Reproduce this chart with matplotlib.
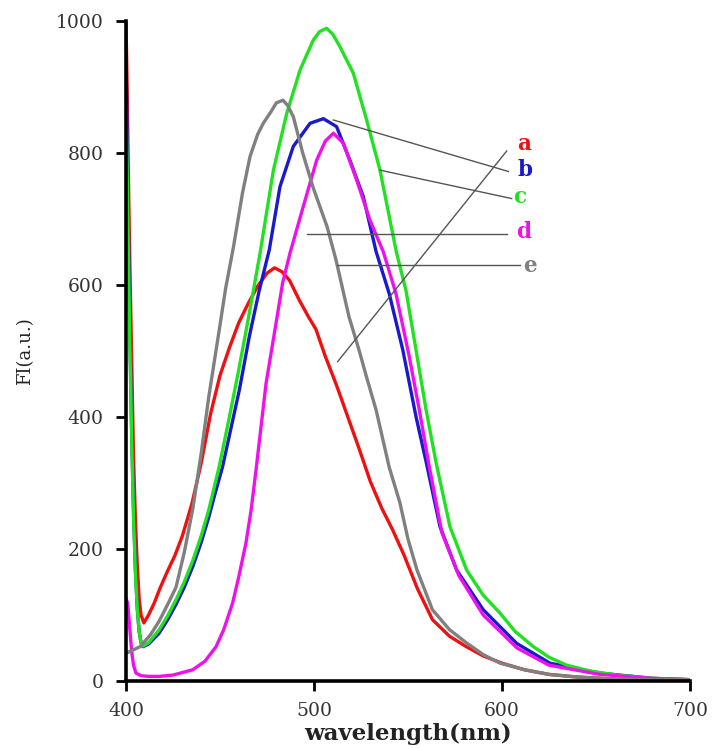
import matplotlib
matplotlib.use("Agg")
import matplotlib.pyplot as plt

# Fluorescence emission spectra, wavelength (nm) vs intensity (a.u.)
wl_a = [400, 400.6, 401.3, 402, 403, 404, 405, 406, 407, 408, 409.5, 412, 415, 418,
        422, 426, 430, 435, 440, 445, 450, 455, 460, 465, 470, 475, 479, 483, 487,
        492, 497, 501, 506, 512, 518, 524, 530, 536, 542, 548, 555, 563, 572, 581,
        590, 600, 612, 625, 640, 660, 680, 700]
fi_a = [1000, 900, 760, 640, 490, 340, 245, 175, 125, 100, 88, 100, 118, 140,
        166, 190, 220, 268, 330, 405, 463, 505, 543, 572, 598, 618, 626, 620, 607,
        578, 552, 533, 492, 448, 400, 352, 302, 262, 228, 190, 140, 93, 68, 52,
        38, 27, 17, 10, 6, 3, 2, 2]

wl_b = [400, 400.6, 401.3, 402, 403, 404, 405, 406, 407, 408, 409, 412, 417.5, 422,
        426.6, 431, 435.6, 440, 444, 447, 451.4, 456, 460.3, 465.6, 470.9, 476.2,
        481.9, 489, 497.9, 505, 512, 519.1, 526.2, 533, 540, 547.2, 554.3, 559.8,
        567, 575.9, 590, 607.8, 625.5, 652, 680, 700]
fi_b = [950, 820, 680, 540, 380, 260, 170, 110, 75, 58, 52, 56, 72, 92,
        116, 142, 174, 210, 248, 280, 325, 385, 441, 522, 592, 653,
        749, 810, 845, 852, 840, 789, 734, 651, 587, 502, 400, 330,
        234, 168, 108, 57, 27, 12, 4, 2]

wl_c = [400, 400.6, 401.3, 402, 403, 404, 405, 406, 407, 408, 409, 412, 417.5, 422,
        426.6, 431, 435.6, 440, 444, 449.5, 455, 460, 465, 471.3, 478.4, 485.5,
        492.6, 499.6, 503, 506.7, 510, 513.8, 520.9, 528, 535.1, 543.8, 548.9,
        554.3, 559.6, 565, 572.3, 581.2, 590, 598.9, 607, 616.7, 625, 634.4, 647,
        661, 680, 700]
fi_c = [870, 780, 640, 520, 370, 250, 165, 110, 75, 58, 53, 58, 77, 98,
        123, 150, 183, 220, 259, 324, 400, 472, 548, 648, 774, 860,
        926, 971, 984, 989, 980, 961, 921, 850, 774, 650, 592,
        501, 411, 330, 234, 168, 130, 103, 75, 52, 36, 24, 15,
        9, 4, 2]

wl_d = [400, 400.9, 402, 403, 404, 405.3, 408, 412, 417.7, 425, 435.5, 442, 447.9,
        452, 456.7, 460, 463.8, 466.5, 469.1, 474.5, 479.8, 483.3, 487.2, 494.3,
        501.4, 506, 510.3, 515.6, 522.7, 529.8, 536.9, 543.6, 550.7, 556, 561.3,
        568, 577, 590, 608, 625, 652, 680, 700]
fi_d = [125, 118, 80, 45, 24, 12, 8, 7, 7, 9, 17, 30, 52,
        78, 118, 158, 209, 258, 318, 451, 542, 603, 648, 719,
        789, 818, 830, 815, 759, 698, 650, 587, 491, 411, 325,
        225, 160, 100, 50, 24, 10, 4, 2]

wl_e = [400, 403, 407.5, 413, 417.5, 422, 426.6, 431, 435.6, 440, 444, 449.5, 453,
        457, 462, 466, 470, 473, 477, 480, 483.5, 486, 489, 494, 499.5, 507,
        511.7, 518.6, 524, 528, 533, 540, 545.7, 550, 554.8, 563, 572, 581, 590,
        599, 612, 625, 640, 660, 680, 700]
fi_e = [42, 46, 52, 70, 90, 115, 142, 195, 262, 345, 430, 530, 595,
        655, 740, 795, 828, 845, 862, 876, 880, 872, 855, 800, 748, 688,
        638, 552, 501, 460, 411, 324, 270, 215, 168, 108, 78, 58, 40,
        27, 17, 10, 6, 3, 2, 2]

series = [
    ("a", wl_a, fi_a, "#ee1111"),
    ("b", wl_b, fi_b, "#1a1acc"),
    ("c", wl_c, fi_c, "#22e022"),
    ("d", wl_d, fi_d, "#ee11ee"),
    ("e", wl_e, fi_e, "#808080"),
]

# leader lines: (label, start point on curve, end point near label, label position)
leaders = {
    "a": ((512.6, 484), (602.5, 803), (608.0, 814)),
    "b": ((510.3, 850), (603.4, 772), (608.5, 774)),
    "c": ((535.1, 774), (605.1, 731), (606.0, 733)),
    "d": ((496.1, 678), (602.5, 678), (607.5, 680)),
    "e": ((512.0, 630), (609.6, 630), (611.0, 629)),
}

x_ticks = [400, 500, 600, 700]
y_ticks = [0, 200, 400, 600, 800, 1000]

plt.rcParams["font.family"] = ["DejaVu Serif"]

fig = plt.figure(figsize=(7.19, 7.48), dpi=100)
ax = fig.add_axes([126 / 719, 67 / 748, 564 / 719, 660 / 748])

for name, wl, fi, color in series:
    ax.plot(wl, fi, color=color, lw=2.4, solid_joinstyle="round")

for name, wl, fi, color in series:
    (x0, y0), (x1, y1), (tx, ty) = leaders[name]
    ax.plot([x0, x1], [y0, y1], color="#555555", lw=1.0)
    ax.text(tx, ty, name, color=color, fontsize=15.5, fontweight="bold",
            ha="left", va="center")

ax.set_xlim(400, 700)
ax.set_ylim(0, 1000)
ax.set_xticks(x_ticks)
ax.set_yticks(y_ticks)
for side in ("top", "right"):
    ax.spines[side].set_visible(False)
for side in ("left", "bottom"):
    ax.spines[side].set_linewidth(2.6)
    ax.spines[side].set_color("black")
ax.tick_params(axis="both", direction="out", length=7, width=2,
               labelsize=13.5, labelcolor="#333333")
ax.tick_params(axis="y", pad=9)
ax.tick_params(axis="x", pad=8)

ax.set_xlabel("wavelength(nm)", fontsize=16.5, fontweight="bold", color="#222222",
              labelpad=2)
ax.set_ylabel("FI(a.u.)", fontsize=13, color="#222222", labelpad=16)

fig.savefig("out.png", dpi=100)
